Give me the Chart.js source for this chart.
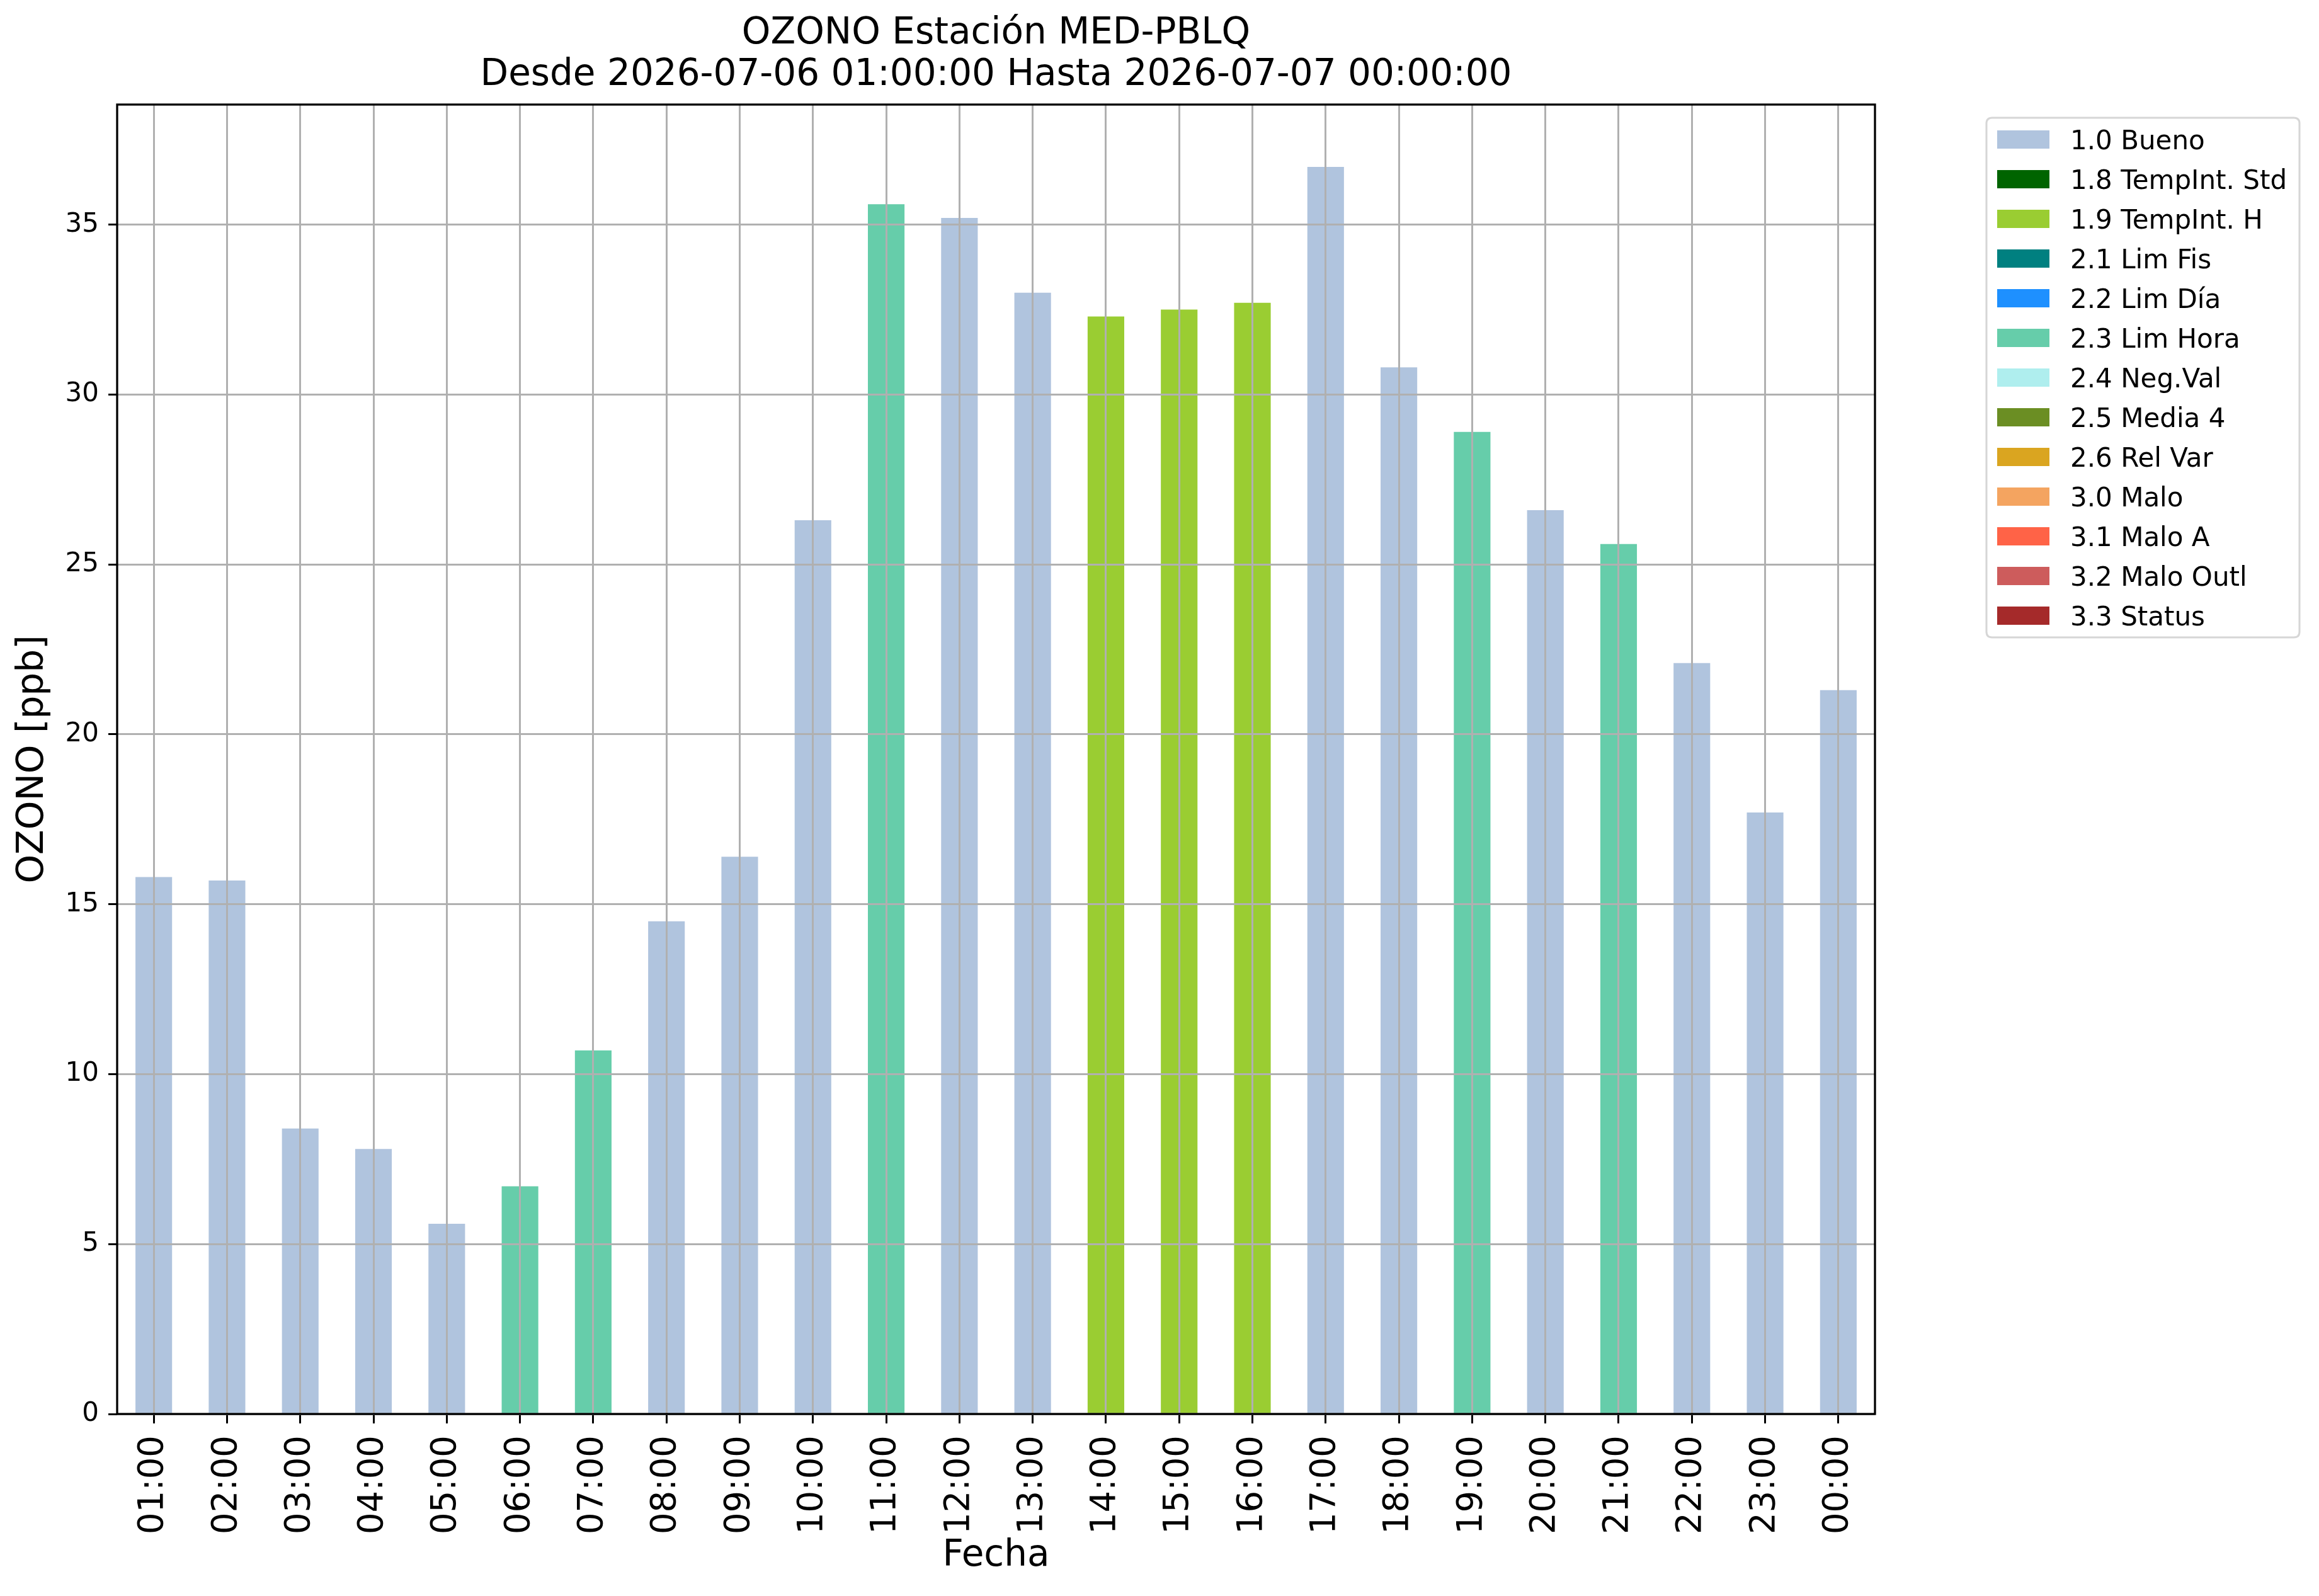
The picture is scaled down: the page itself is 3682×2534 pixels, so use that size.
<!DOCTYPE html>
<html>
<head>
<meta charset="utf-8">
<script src="https://cdn.jsdelivr.net/npm/chart.js@4.4.1/dist/chart.umd.min.js"></script>
<style>
  html, body { margin: 0; padding: 0; background: #ffffff; }
  #wrap { width: 3682px; height: 2534px; }
</style>
</head>
<body>
<div id="wrap"><canvas id="c" width="3682" height="2534"></canvas></div>
<script>
// ---- Data ----
const categories = ['01:00','02:00','03:00','04:00','05:00','06:00','07:00','08:00','09:00','10:00','11:00','12:00',
                    '13:00','14:00','15:00','16:00','17:00','18:00','19:00','20:00','21:00','22:00','23:00','00:00'];
const ozoneValues = [15.8, 15.7, 8.4, 7.8, 5.6, 6.7, 10.7, 14.5, 16.4, 26.3, 35.6, 35.2,
                     33.0, 32.3, 32.5, 32.7, 36.7, 30.8, 28.9, 26.6, 25.6, 22.1, 17.7, 21.3];
const valueFlags = ['1.0','1.0','1.0','1.0','1.0','2.3','2.3','1.0','1.0','1.0','2.3','1.0',
                    '1.0','1.9','1.9','1.9','1.0','1.0','2.3','1.0','2.3','1.0','1.0','1.0'];
const flagCodes  = ['1.0','1.8','1.9','2.1','2.2','2.3','2.4','2.5','2.6','3.0','3.1','3.2','3.3'];
const flagLabels = ['1.0 Bueno','1.8 TempInt. Std','1.9 TempInt. H','2.1 Lim Fis','2.2 Lim Día','2.3 Lim Hora',
                    '2.4 Neg.Val','2.5 Media 4','2.6 Rel Var','3.0 Malo','3.1 Malo A','3.2 Malo Outl','3.3 Status'];
const flagColors = ['#B0C4DE','#006400','#9ACD32','#008080','#1E90FF','#66CDAA',
                    '#AFEEEE','#6B8E23','#DAA520','#F4A460','#FF6347','#CD5C5C','#A52A2A'];
const yTickStep = 5;
const titleLines = ['OZONO Estación MED-PBLQ', 'Desde 2026-07-06 01:00:00 Hasta 2026-07-07 00:00:00'];
const xTitle = 'Fecha';
const yTitle = 'OZONO [ppb]';

// ---- Build datasets ----
const datasets = flagCodes.map((code, k) => ({
  label: flagLabels[k],
  data: ozoneValues.map((v, i) => valueFlags[i] === code ? v : null),
  backgroundColor: flagColors[k],
  borderWidth: 0,
  barPercentage: 0.5,
  categoryPercentage: 1.0
}));
const yMax = Math.max(...ozoneValues) * 1.05;

const FONT = '"DejaVu Sans", "Liberation Sans", sans-serif';
Chart.defaults.font.family = FONT;
Chart.defaults.color = '#000000';

const framePlugin = {
  id: 'frameAndLegend',
  afterDraw(chart) {
    const ctx = chart.ctx;
    const a = chart.chartArea;
    ctx.save();
    // axes frame (spines)
    ctx.strokeStyle = '#000000';
    ctx.lineWidth = 3.3;
    ctx.strokeRect(a.left, a.top, a.right - a.left, a.bottom - a.top);

    // legend box
    const bx = 3154, by = 187, bw = 497, bh = 825, r = 9;
    ctx.beginPath();
    ctx.moveTo(bx + r, by);
    ctx.lineTo(bx + bw - r, by);
    ctx.quadraticCurveTo(bx + bw, by, bx + bw, by + r);
    ctx.lineTo(bx + bw, by + bh - r);
    ctx.quadraticCurveTo(bx + bw, by + bh, bx + bw - r, by + bh);
    ctx.lineTo(bx + r, by + bh);
    ctx.quadraticCurveTo(bx, by + bh, bx, by + bh - r);
    ctx.lineTo(bx, by + r);
    ctx.quadraticCurveTo(bx, by, bx + r, by);
    ctx.closePath();
    ctx.fillStyle = '#ffffff';
    ctx.fill();
    ctx.strokeStyle = '#d6d6d6';
    ctx.lineWidth = 3;
    ctx.stroke();

    ctx.font = '42px ' + FONT;
    ctx.textAlign = 'left';
    ctx.textBaseline = 'alphabetic';
    chart.data.datasets.forEach((ds, k) => {
      const top = 207 + k * 63;
      ctx.fillStyle = ds.backgroundColor;
      ctx.fillRect(3171, top, 83, 29);
      ctx.fillStyle = '#000000';
      ctx.fillText(ds.label, 3287, top + 30);
    });
    ctx.restore();
  }
};

new Chart(document.getElementById('c'), {
  type: 'bar',
  data: { labels: categories, datasets: datasets },
  plugins: [framePlugin],
  options: {
    responsive: false,
    devicePixelRatio: 1,
    animation: false,
    events: [],
    layout: { padding: { top: 0, right: 705, bottom: 0, left: 0 } },
    plugins: {
      legend: { display: false },
      tooltip: { enabled: false },
      title: {
        display: true,
        fullSize: false,
        text: titleLines,
        color: '#000000',
        font: { size: 58, weight: 'normal', lineHeight: 1.138 },
        padding: { top: 20.5, bottom: 13.5 }
      }
    },
    scales: {
      x: {
        type: 'category',
        stacked: true,
        offset: true,
        afterFit(scale) { scale.height = 289; },
        grid: {
          display: true,
          offset: false,
          z: 1,
          color: '#b0b0b0',
          lineWidth: 3,
          drawTicks: true,
          tickLength: 15,
          tickColor: '#000000',
          tickWidth: 3
        },
        border: { display: false },
        ticks: {
          autoSkip: false,
          minRotation: 90,
          maxRotation: 90,
          padding: 19,
          color: '#000000',
          font: { size: 54.5 }
        },
        title: {
          display: true,
          text: xTitle,
          color: '#000000',
          font: { size: 58, lineHeight: 1.2 },
          padding: { top: 0, bottom: 28 }
        }
      },
      y: {
        type: 'linear',
        stacked: true,
        min: 0,
        max: yMax,
        afterFit(scale) { scale.width = 186; },
        grid: {
          display: true,
          z: 1,
          color: '#b0b0b0',
          lineWidth: 3,
          drawTicks: true,
          tickLength: 14,
          tickColor: '#000000',
          tickWidth: 3
        },
        border: { display: false },
        ticks: {
          stepSize: yTickStep,
          includeBounds: false,
          padding: 15,
          color: '#000000',
          font: { size: 42 }
        },
        title: {
          display: true,
          text: yTitle,
          color: '#000000',
          font: { size: 58, lineHeight: 1.2 },
          padding: { top: 18, bottom: 0 }
        }
      }
    }
  }
});
</script>
</body>
</html>
